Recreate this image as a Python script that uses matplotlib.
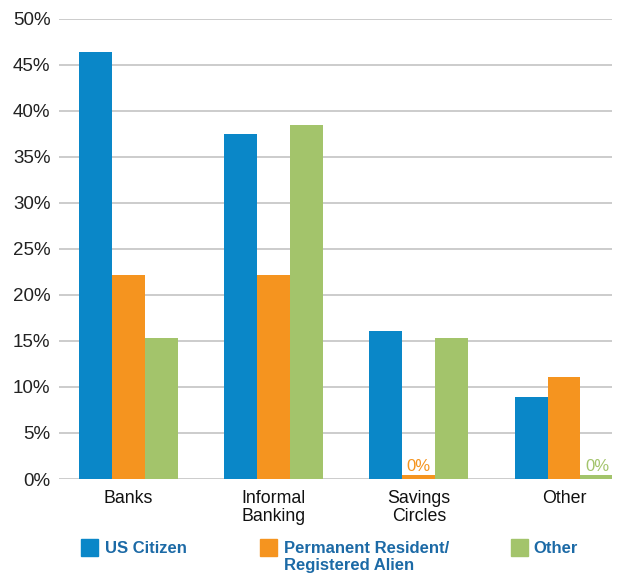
import numpy as np
import matplotlib as mpl
import matplotlib.pyplot as plt
from matplotlib.patches import Rectangle

plt.rcParams['font.family'] = ['Liberation Sans', 'DejaVu Sans']

categories = ["Banks", "Informal\nBanking", "Savings\nCircles", "Other"]
series_names = ["US Citizen", "Permanent Resident/\nRegistered Alien", "Other"]
us_citizen = [46.4, 37.5, 16.1, 8.9]
perm_resident = [22.2, 22.2, 0.0, 11.1]
other_status = [15.3, 38.5, 15.3, 0.0]
yticks = [0, 5, 10, 15, 20, 25, 30, 35, 40, 45, 50]

colors = ["#0a87c8", "#f5941f", "#a3c46b"]
legend_color = "#1c6aa6"

fig = plt.figure(figsize=(6.2, 5.76), dpi=100)
ax = fig.add_axes([0.095, 0.1684, 0.892, 0.799])

x = np.arange(len(categories))
w = 0.227
min_h = 0.4  # keep zero bars visible as a thin stub

for i, vals in enumerate([us_citizen, perm_resident, other_status]):
    vals = np.array(vals)
    heights = np.where(vals == 0, min_h, vals)
    ax.bar(x + (i - 1) * w, heights, width=w, color=colors[i], zorder=3)
    for xi, v, h in zip(x, vals, heights):
        if v == 0:
            ax.text(xi + (i - 1) * w, h + 0.1, "0%", ha="center", va="bottom",
                    color=colors[i], fontsize=12)

ax.set_ylim(0, 50)
ax.set_xlim(-0.478, 3.33)
ax.set_yticks(yticks)
ax.set_yticklabels([f"{t}%" for t in yticks], fontsize=13.5, color="#222222")
ax.set_xticks(x)
ax.set_xticklabels(categories, fontsize=12.8, color="#111111", linespacing=1.1)
ax.tick_params(axis="both", length=0)
ax.tick_params(axis="y", pad=6)
ax.tick_params(axis="x", pad=8)
ax.yaxis.grid(True, color="#c8c8c8", linewidth=1.3, zorder=0)
for s in ax.spines.values():
    s.set_visible(False)

# legend drawn by hand along the bottom
leg_y = 1 - 556 / 576
sq_w, sq_h = 17 / 620, 17 / 576
for xs, xt, c, name in zip([81, 260, 511], [105, 284, 533], colors, series_names):
    fig.patches.append(Rectangle((xs / 620, leg_y), sq_w, sq_h, color=c,
                                 transform=fig.transFigure, figure=fig))
    fig.text(xt / 620, leg_y + sq_h - 2 / 576, name, ha="left", va="top",
             color=legend_color, fontsize=12, fontweight="bold",
             linespacing=1.15)

fig.savefig("out.png", dpi=100)
